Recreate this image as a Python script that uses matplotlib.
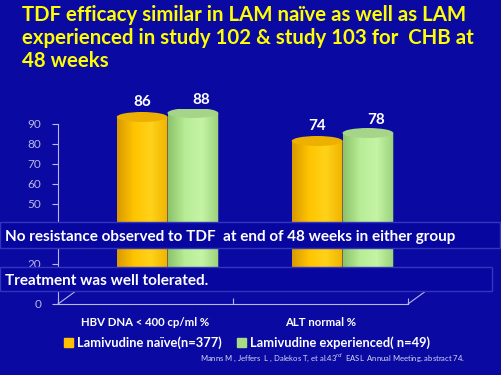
import numpy as np
import matplotlib as mpl
mpl.use('Agg')
import matplotlib.pyplot as plt
from matplotlib.patches import Rectangle, Ellipse
from matplotlib.path import Path
from matplotlib.patches import PathPatch
from matplotlib.colors import LinearSegmentedColormap

plt.rcParams['font.family'] = ['Lato', 'DejaVu Sans']

# data
categories = ["HBV DNA < 400 cp/ml %", "ALT normal %"]
naive = [86, 74]
experienced = [88, 78]
series_names = ["Lamivudine naïve(n=377)", "Lamivudine experienced( n=49)"]
yticks = [0, 10, 20, 30, 40, 50, 60, 70, 80, 90]
# 10, 30 and 40 sit under the banners in the slide
ytick_labels = ["0", "", "20", "", "", "50", "60", "70", "80", "90"]

bg = "#0a0aa2"
orange_cols = ["#d99a00", "#ffc400", "#ffd21a", "#f0b400"]
green_cols = ["#8cc46a", "#b8ec96", "#c4f4a4", "#9cd27c"]
orange_top = "#eeb000"
green_top = "#a6d488"

W, H = 501, 375
fig = plt.figure(figsize=(W / 100, H / 100), dpi=100)
fig.patch.set_facecolor(bg)


def px(x0, y0, x1, y1):
    # pixel box (top-left origin) -> figure fraction rect
    return [x0 / W, 1 - y1 / H, (x1 - x0) / W, (y1 - y0) / H]


# main axis (floor + y axis)
ax = fig.add_axes(px(58, 124, 408, 304))
ax.set_facecolor('none')
ax.set_xlim(-0.5, 1.5)
ax.set_ylim(0, 90)
for s in ['top', 'right']:
    ax.spines[s].set_visible(False)
axis_col = "#b8b8e8"
ax.spines['left'].set_color(axis_col)
ax.spines['bottom'].set_color(axis_col)
ax.spines['left'].set_linewidth(0.8)
ax.spines['bottom'].set_linewidth(0.8)
ax.set_yticks(yticks)
ax.set_yticklabels(ytick_labels)
ax.tick_params(axis='y', colors=axis_col, labelsize=8.5, length=4, pad=8)
ax.set_xticks([-0.5, 0.5, 1.5])
ax.set_xticklabels(["", "", ""])
ax.set_xticks([0, 1], minor=True)
ax.set_xticklabels(categories, minor=True, color="white", fontsize=8.2, fontweight='bold')
ax.tick_params(axis='x', which='major', colors=axis_col, length=4, direction='in')
ax.tick_params(axis='x', which='minor', length=0, pad=9)
# perspective floor edges
ax.plot([-0.5, -0.39], [0, 7], color=axis_col, lw=0.8, clip_on=False)
ax.plot([1.5, 1.61], [0, 7], color=axis_col, lw=0.8, clip_on=False)

# bar axes shifted for 3D depth
bx = fig.add_axes(px(80, 109, 430, 289))
bx.set_facecolor('none')
bx.set_xlim(-0.5, 1.5)
bx.set_ylim(0, 90)
bx.axis('off')

bw = 0.29
eh = 5.0


def cylinder(xc, v, cols, topc):
    x0, x1 = xc - bw / 2, xc + bw / 2
    # body outline: rectangle with elliptical bottom
    t = np.linspace(np.pi, 2 * np.pi, 40)
    bottom = np.column_stack([xc + bw / 2 * np.cos(t), eh / 2 * np.sin(t)])
    verts = np.vstack([[[x0, v]], bottom, [[x1, v]], [[x0, v]]])
    clip = PathPatch(Path(verts), facecolor='none', edgecolor='none')
    bx.add_patch(clip)
    cm = LinearSegmentedColormap.from_list('c', cols)
    grad = np.linspace(0, 1, 64).reshape(1, -1)
    im = bx.imshow(grad, cmap=cm, aspect='auto', extent=[x0, x1, -eh, v],
                   interpolation='bicubic', zorder=2)
    im.set_clip_path(clip)
    bx.add_patch(Ellipse((xc, v), bw, eh, facecolor=topc, edgecolor='none', zorder=3))


for i in range(len(categories)):
    cylinder(i - bw / 2, naive[i], orange_cols, orange_top)
    cylinder(i + bw / 2, experienced[i], green_cols, green_top)
    bx.text(i - bw / 2, naive[i] + 4, str(naive[i]), color='white', fontsize=11,
            fontweight='bold', ha='center', va='bottom')
    bx.text(i + bw / 2 + 0.05, experienced[i] + 3, str(experienced[i]), color='white',
            fontsize=11, fontweight='bold', ha='center', va='bottom')
bx.set_xlim(-0.5, 1.5)
bx.set_ylim(0, 90)

# title
fig.text(22 / W, 1 - 5 / H,
         "TDF efficacy similar in LAM naïve as well as LAM\n"
         "experienced in study 102 & study 103 for  CHB at\n48 weeks",
         color="#ffff00", fontsize=14.7, fontweight='bold', ha='left', va='top',
         linespacing=1.2)

# banners
for (x0, y0, x1, y1), txt in [((0, 222, 500, 248), "No resistance observed to TDF  at end of 48 weeks in either group"),
                              ((0, 267, 492, 291), "Treatment was well tolerated.")]:
    r = px(x0, y0, x1, y1)
    fig.patches.append(Rectangle((r[0], r[1]), r[2], r[3], transform=fig.transFigure,
                                 facecolor="#0707a0", edgecolor="#3434bc", lw=1.0, zorder=10))
    fig.text(5 / W, 1 - ((y0 + y1) / 2 + 2) / H, txt, color='white', fontsize=11,
             fontweight='bold', ha='left', va='center', zorder=11)

# legend
handles = [Rectangle((0, 0), 1, 1, color="#ffc000"), Rectangle((0, 0), 1, 1, color="#a8dc84")]
leg = fig.legend(handles, series_names, loc='center', bbox_to_anchor=(247 / W, 1 - 343 / H),
                 ncol=2, frameon=False, handlelength=0.7, handleheight=0.7,
                 handletextpad=0.3, columnspacing=1.2, fontsize=9.3)
for t in leg.get_texts():
    t.set_color('white')
    t.set_fontweight('bold')

fig.text(200 / W, 1 - 358 / H,
         "Manns M , Jeffers  L , Dalekos T, et al.43$^{rd}$  EASL  Annual Meeting. abstract 74.",
         color="#d8d8f0", fontsize=5.5, ha='left', va='center')

fig.savefig("out.png", dpi=100, facecolor=bg)
